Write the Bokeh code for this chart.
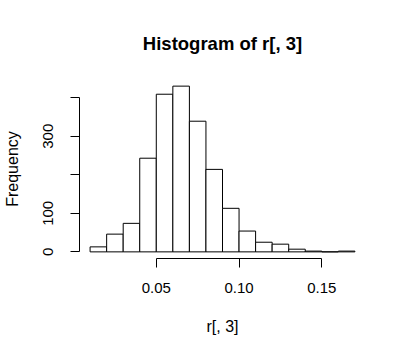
from bokeh.plotting import figure
from bokeh.models import Range1d, LinearAxis, FixedTicker
from bokeh.embed import file_html
from bokeh.resources import INLINE

# ---- data ----
bin_edges = [0.01, 0.02, 0.03, 0.04, 0.05, 0.06, 0.07, 0.08, 0.09,
             0.10, 0.11, 0.12, 0.13, 0.14, 0.15, 0.16, 0.17]
counts = [13, 46, 74, 243, 409, 430, 339, 214, 113, 54, 25, 20, 7, 2, 0, 2]
x_ticks = [0.05, 0.10, 0.15]
x_tick_labels = ["0.05", "0.10", "0.15"]
y_ticks = [0, 100, 200, 300, 400]
y_tick_labels = ["0", "100", "", "300", ""]
title_text = "Histogram of r[, 3]"
x_label = "r[, 3]"
y_label = "Frequency"

FONT = "Liberation Sans"

# R-style ranges: data range extended by 4%
xmin, xmax = bin_edges[0], bin_edges[-1]
ymin, ymax = 0, max(counts)
xpad = (xmax - xmin) * 0.04
ypad = (ymax - ymin) * 0.04

p = figure(width=405, height=356, output_backend="svg", toolbar_location=None,
           x_range=Range1d(xmin - xpad, xmax + xpad),
           y_range=Range1d(ymin - ypad, ymax + ypad),
           x_axis_type=None, y_axis_type=None,
           min_border_left=78, min_border_right=40,
           min_border_top=79, min_border_bottom=98,
           title=title_text)
p.outline_line_color = None
p.background_fill_color = "white"
p.border_fill_color = "white"
p.xgrid.visible = False
p.ygrid.visible = False

p.title.align = "center"
p.title.text_font = FONT
p.title.text_font_size = "18.5px"
p.title.text_font_style = "bold"
p.title.text_color = "black"
p.title.standoff = 51

p.quad(left=bin_edges[:-1], right=bin_edges[1:], top=counts, bottom=0,
       fill_color="white", line_color="black", line_width=1)

xaxis = LinearAxis(ticker=FixedTicker(ticks=x_ticks), bounds=(x_ticks[0], x_ticks[-1]),
                   major_label_overrides={t: l for t, l in zip(x_ticks, x_tick_labels)},
                   axis_label=x_label, axis_label_standoff=22)
yaxis = LinearAxis(ticker=FixedTicker(ticks=y_ticks), bounds=(y_ticks[0], y_ticks[-1]),
                   major_label_overrides={t: l for t, l in zip(y_ticks, y_tick_labels)},
                   major_label_orientation="vertical",
                   axis_label=y_label, axis_label_standoff=20)
for ax, so in ((xaxis, 15), (yaxis, 17)):
    ax.axis_line_color = "black"
    ax.axis_line_width = 1
    ax.major_tick_out = 9
    ax.major_tick_in = 0
    ax.minor_tick_line_color = None
    ax.major_tick_line_color = "black"
    ax.major_label_text_font = FONT
    ax.major_label_text_font_size = "15px"
    ax.major_label_text_color = "black"
    ax.major_label_standoff = so
    ax.axis_label_text_font = FONT
    ax.axis_label_text_font_size = "16px"
    ax.axis_label_text_font_style = "normal"
    ax.axis_label_text_color = "black"
p.add_layout(xaxis, "below")
p.add_layout(yaxis, "left")

open("out.html", "w").write(file_html(p, INLINE))
